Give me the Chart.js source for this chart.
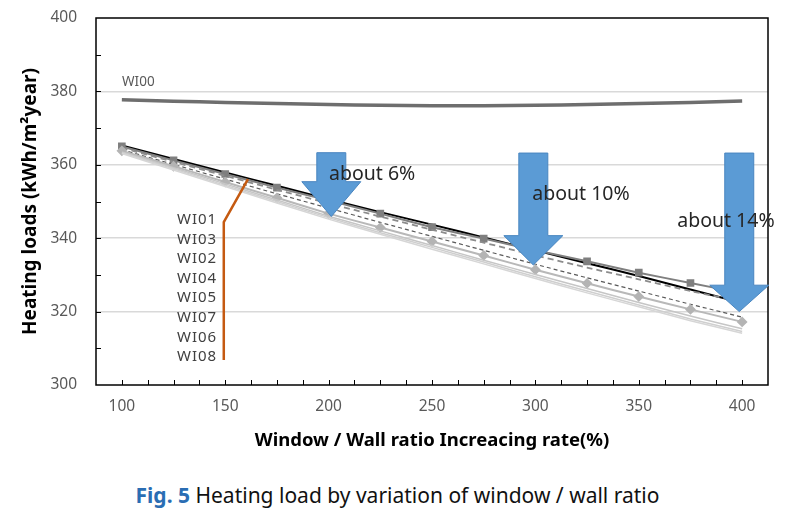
<!DOCTYPE html>
<html>
<head>
<meta charset="utf-8">
<script src="https://cdn.jsdelivr.net/npm/chart.js@4.4.0/dist/chart.umd.min.js"></script>
<style>
  body { margin: 0; background: #fff; }
  #wrap { position: relative; width: 795px; height: 519px; }
  #caption {
    position: absolute; left: 0; top: 481px; width: 795px; text-align: center;
    font-family: "Noto Sans", sans-serif; font-size: 21px; color: #111;
  }
  #caption b { color: #2a6db3; }
</style>
</head>
<body>
<div id="wrap">
  <canvas id="heatChart" width="795" height="470"></canvas>
  <div id="caption"><b>Fig. 5</b> Heating load by variation of window / wall ratio</div>
</div>
<script>
// x categories (window / wall ratio increasing rate, %)
const ratios = [100, 125, 150, 175, 200, 225, 250, 275, 300, 325, 350, 375, 400];

// heating loads per case (kWh/m2year)
const wi00 = [377.7, 377.3, 377.0, 376.7, 376.4, 376.2, 376.1, 376.1, 376.2, 376.4, 376.7, 377.0, 377.4];
const wi01 = [365.3, 361.6, 357.9, 354.3, 350.6, 347.1, 343.7, 340.2, 336.7, 333.2, 329.7, 326.0, 322.4];
const wi03 = [365.0, 361.2, 357.5, 353.8, 350.3, 346.7, 343.0, 339.9, 336.7, 333.7, 330.6, 327.8, 325.0];
const wi02 = [364.6, 360.8, 357.0, 353.2, 349.5, 345.9, 342.3, 338.8, 335.3, 332.0, 328.8, 325.6, 322.7];
const wi04 = [364.1, 360.1, 356.1, 352.1, 348.2, 344.3, 340.5, 336.7, 332.9, 329.2, 325.6, 322.0, 318.5];
const wi05 = [363.8, 359.6, 355.3, 351.0, 346.7, 342.9, 339.1, 335.3, 331.4, 327.7, 324.1, 320.6, 317.2];
const wi07 = [363.5, 359.2, 354.8, 350.4, 346.0, 342.0, 338.0, 334.0, 330.1, 326.3, 322.5, 318.8, 315.3];
const wi06 = [363.3, 358.9, 354.4, 350.0, 345.6, 341.5, 337.5, 333.5, 329.5, 325.6, 321.8, 318.0, 314.6];
const wi08 = [363.1, 358.6, 354.1, 349.6, 345.2, 341.1, 337.0, 333.0, 329.0, 325.1, 321.3, 317.5, 314.1];

// tick labels
const xTickLabels = [100, 150, 200, 250, 300, 350, 400];
const yTickLabels = [300, 320, 340, 360, 380, 400];

// case labels next to the leader line (top to bottom) and their anchor (data units)
const caseNames = ['WI01', 'WI03', 'WI02', 'WI04', 'WI05', 'WI07', 'WI06', 'WI08'];
const caseLabelX = 146.1;
const caseLabelY = [345.0, 339.7, 334.3, 329.0, 323.7, 318.4, 313.0, 307.7];
const leaderX = [149.3, 149.3, 161.0];
const leaderY = [306.8, 344.4, 356.1];
const wi00Label = { x: 100.1, y: 382.6 };

// reduction arrows
const arrowX = [201.3, 299.0, 398.6];
const arrowTop = [363.3, 363.2, 363.2];
const arrowHeadBase = [355.4, 340.7, 327.2];
const arrowTip = [345.9, 332.7, 320.0];
const arrowText = ['about 6%', 'about 10%', 'about 14%'];
const arrowTextX = [200.2, 298.5, 368.6];
const arrowTextY = [357.4, 351.8, 344.5];

function pts(vals) {
    return ratios.map((r, i) => ({ x: r, y: vals[i] }));
}

const datasets = [
    { label: 'WI08', data: pts(wi08), borderColor: '#d6d6d6', borderWidth: 1.5, pointRadius: 0 },
    { label: 'WI06', data: pts(wi06), borderColor: '#cfcfcf', borderWidth: 1.5, pointRadius: 0 },
    { label: 'WI07', data: pts(wi07), borderColor: '#c6c6c6', borderWidth: 1.5, pointRadius: 0 },
    { label: 'WI05', data: pts(wi05), borderColor: '#b8b8b8', borderWidth: 2, pointStyle: 'rectRot',
      pointRadius: 4, pointBackgroundColor: '#b4b4b4', pointBorderColor: '#b4b4b4' },
    { label: 'WI04', data: pts(wi04), borderColor: '#5a5a5a', borderWidth: 1.2, borderDash: [4, 3], pointRadius: 0 },
    { label: 'WI02', data: pts(wi02), borderColor: '#8c8c8c', borderWidth: 1.8, borderDash: [6, 4], pointRadius: 0 },
    { label: 'WI03', data: pts(wi03), borderColor: '#7f7f7f', borderWidth: 2, pointStyle: 'rect',
      pointRadius: 4, pointBackgroundColor: '#7f7f7f', pointBorderColor: '#7f7f7f' },
    { label: 'WI01', data: pts(wi01), borderColor: '#000000', borderWidth: 2, pointRadius: 0 },
    { label: 'WI00', data: pts(wi00), borderColor: '#6e6e6e', borderWidth: 3.5, pointRadius: 0 }
];

// frame, inward tick marks, arrows and annotations
const decorPlugin = {
    id: 'decor',
    beforeDatasetsDraw(chart) {
        const { ctx, chartArea: a } = chart;
        ctx.save();
        ctx.strokeStyle = '#000';
        ctx.lineWidth = 1.5;
        ctx.strokeRect(a.left, a.top, a.right - a.left, a.bottom - a.top);
        const xs = chart.scales.x, ys = chart.scales.y;
        ctx.lineWidth = 1;
        ctx.beginPath();
        for (let v = 100; v < 412.5; v += 12.5) {
            const px = Math.round(xs.getPixelForValue(v)) + 0.5;
            ctx.moveTo(px, a.bottom);
            ctx.lineTo(px, a.bottom - 5);
        }
        for (let v = 310; v < 400; v += 10) {
            const py = Math.round(ys.getPixelForValue(v)) + 0.5;
            ctx.moveTo(a.left, py);
            ctx.lineTo(a.left + 5, py);
        }
        ctx.stroke();
        ctx.restore();
    },
    afterDatasetsDraw(chart) {
        const { ctx } = chart;
        const xs = chart.scales.x, ys = chart.scales.y;
        ctx.save();

        // orange leader line
        ctx.strokeStyle = '#c55a11';
        ctx.lineWidth = 2.5;
        ctx.beginPath();
        leaderX.forEach((v, i) => {
            const px = xs.getPixelForValue(v), py = ys.getPixelForValue(leaderY[i]);
            if (i === 0) ctx.moveTo(px, py); else ctx.lineTo(px, py);
        });
        ctx.stroke();

        // case labels
        ctx.fillStyle = '#404040';
        ctx.font = '15px "Noto Sans", sans-serif';
        ctx.letterSpacing = '1px';
        ctx.textAlign = 'right';
        ctx.textBaseline = 'middle';
        caseNames.forEach((n, i) => {
            ctx.fillText(n, xs.getPixelForValue(caseLabelX), ys.getPixelForValue(caseLabelY[i]));
        });
        ctx.letterSpacing = '0px';
        ctx.textAlign = 'left';
        ctx.font = '13.5px "Noto Sans", sans-serif';
        ctx.fillStyle = '#595959';
        ctx.fillText('WI00', xs.getPixelForValue(wi00Label.x), ys.getPixelForValue(wi00Label.y));

        // blue arrows
        const shaft = 14.5, head = 29.5;
        ctx.fillStyle = '#5b9bd5';
        ctx.strokeStyle = '#4a86c0';
        ctx.lineWidth = 1;
        arrowX.forEach((v, i) => {
            const cx = xs.getPixelForValue(v);
            const top = ys.getPixelForValue(arrowTop[i]);
            const base = ys.getPixelForValue(arrowHeadBase[i]);
            const tip = ys.getPixelForValue(arrowTip[i]);
            ctx.beginPath();
            ctx.moveTo(cx - shaft, top);
            ctx.lineTo(cx + shaft, top);
            ctx.lineTo(cx + shaft, base);
            ctx.lineTo(cx + head, base);
            ctx.lineTo(cx, tip);
            ctx.lineTo(cx - head, base);
            ctx.lineTo(cx - shaft, base);
            ctx.closePath();
            ctx.fill();
            ctx.stroke();
        });

        // percentage notes
        ctx.fillStyle = '#262626';
        ctx.font = '19.5px "Noto Sans", sans-serif';
        ctx.textAlign = 'left';
        arrowText.forEach((t, i) => {
            ctx.fillText(t, xs.getPixelForValue(arrowTextX[i]), ys.getPixelForValue(arrowTextY[i]));
        });
        ctx.restore();
    }
};

const ctx = document.getElementById('heatChart').getContext('2d');
new Chart(ctx, {
    type: 'line',
    data: { datasets: datasets },
    options: {
        responsive: false,
        animation: false,
        devicePixelRatio: 1,
        layout: { autoPadding: false, padding: { left: 0, right: 27, top: 18, bottom: 0 } },
        elements: { line: { tension: 0.15 } },
        plugins: { legend: { display: false }, tooltip: { enabled: false } },
        scales: {
            x: {
                type: 'linear',
                min: 87.5,
                max: 412.5,
                afterBuildTicks: s => { s.ticks = xTickLabels.map(v => ({ value: v })); },
                afterFit: s => { s.height = 85; s.paddingLeft = 0; s.paddingRight = 0; },
                ticks: {
                    color: '#595959',
                    font: { family: 'Noto Sans', size: 15.5 },
                    padding: 12,
                    maxRotation: 0,
                    autoSkip: false
                },
                grid: { display: false, drawTicks: false },
                border: { display: false },
                title: {
                    display: true,
                    text: 'Window / Wall ratio Increacing rate(%)',
                    color: '#000',
                    font: { family: 'Noto Sans', size: 18.5, weight: 'bold' },
                    padding: { top: 0, bottom: 18 }
                }
            },
            y: {
                min: 300,
                max: 400,
                afterBuildTicks: s => { s.ticks = yTickLabels.map(v => ({ value: v })); },
                afterFit: s => { s.width = 96; s.paddingTop = 0; s.paddingBottom = 0; },
                ticks: {
                    color: '#595959',
                    font: { family: 'Noto Sans', size: 15.5 },
                    padding: 19
                },
                grid: {
                    drawTicks: false,
                    color: c => (c.tick && c.tick.value > 300 && c.tick.value < 400) ? '#d9d9d9' : 'rgba(0,0,0,0)',
                    lineWidth: 1.5
                },
                border: { display: false },
                title: {
                    display: true,
                    text: 'Heating loads (kWh/m²year)',
                    color: '#000',
                    font: { family: 'Noto Sans', size: 19, weight: 'bold' },
                    padding: { top: 19, bottom: 0 }
                }
            }
        }
    },
    plugins: [decorPlugin]
});
</script>
</body>
</html>
